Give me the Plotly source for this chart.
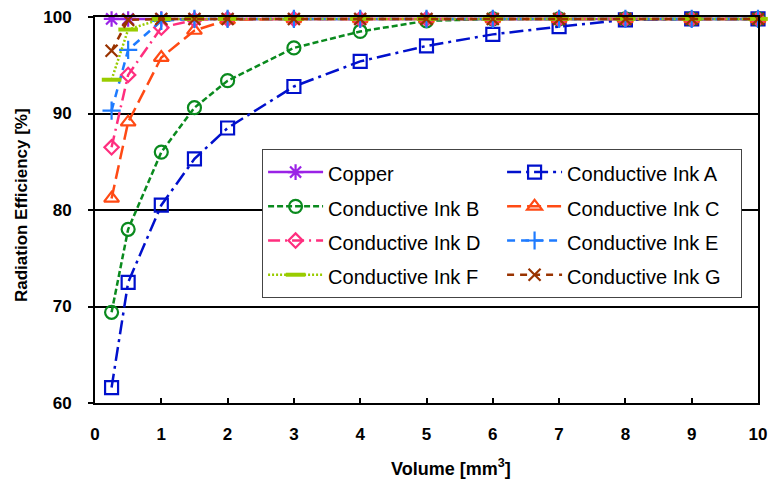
import plotly.graph_objects as go

x_vals = [0.25, 0.5, 1, 1.5, 2, 3, 4, 5, 6, 7, 8, 9, 10]

copper = [99.8, 99.8, 99.8, 99.8, 99.8, 99.8, 99.8, 99.8, 99.8, 99.8, 99.8, 99.8, 99.8]
ink_a = [61.6, 72.5, 80.5, 85.3, 88.5, 92.8, 95.4, 97.0, 98.2, 99.0, 99.7, 99.8, 99.8]
ink_b = [69.4, 78.0, 86.0, 90.6, 93.4, 96.8, 98.5, 99.6, 99.8, 99.8, 99.8, 99.8, 99.8]
ink_c = [81.2, 89.1, 95.8, 98.6, 99.7, 99.8, 99.8, 99.8, 99.8, 99.8, 99.8, 99.8, 99.8]
ink_d = [86.5, 94.0, 98.9, 99.7, 99.8, 99.8, 99.8, 99.8, 99.8, 99.8, 99.8, 99.8, 99.8]
ink_e = [90.3, 96.6, 99.6, 99.8, 99.8, 99.8, 99.8, 99.8, 99.8, 99.8, 99.8, 99.8, 99.8]
ink_f = [93.5, 98.7, 99.8, 99.8, 99.8, 99.8, 99.8, 99.8, 99.8, 99.8, 99.8, 99.8, 99.8]
ink_g = [96.5, 99.7, 99.8, 99.8, 99.8, 99.8, 99.8, 99.8, 99.8, 99.8, 99.8, 99.8, 99.8]

names = ["Copper", "Conductive Ink A", "Conductive Ink B", "Conductive Ink C",
         "Conductive Ink D", "Conductive Ink E", "Conductive Ink F", "Conductive Ink G"]
series = [copper, ink_a, ink_b, ink_c, ink_d, ink_e, ink_f, ink_g]
colors = ["#9A22E6", "#0010CC", "#0A8A1E", "#FF4A14", "#FF2E7E", "#1E7BFF", "#99CC00", "#993300"]
dashes = ["solid", "14px,5px,3px,5px", "6px,3px", "14px,6px", "12px,5px,2px,5px",
          "8px,6px", "2px,2px", "7px,6px"]
symbols = ["asterisk-open", "square-open", "circle-open", "triangle-up-open", "diamond-open",
           "cross-thin-open", "line-ew-open", "x-thin-open"]
sizes = [13, 13, 13, 13, 11, 13, 14, 12]

x_ticks = [0, 1, 2, 3, 4, 5, 6, 7, 8, 9, 10]
y_ticks = [60, 70, 80, 90, 100]

fig = go.Figure()
for name, ys, c, d, s, sz in zip(names, series, colors, dashes, symbols, sizes):
    fig.add_trace(go.Scatter(
        x=x_vals, y=ys, name='<span style="font-size:20px">%s</span>' % name,
        mode="lines+markers",
        line=dict(color=c, width=2.5, dash=d),
        marker=dict(symbol=s, size=sz, color=c,
                    line=dict(color=c, width=2.2 if s != "line-ew-open" else 4)),
        cliponaxis=False,
    ))

fig.update_layout(
    width=769, height=481,
    margin=dict(l=95, r=11, t=17, b=78, autoexpand=False),
    paper_bgcolor="white", plot_bgcolor="white",
    font=dict(family="Liberation Sans, Arial, sans-serif", color="black"),
    showlegend=True,
    legend=dict(
        orientation="h", x=0.252, y=0.658, xanchor="left", yanchor="top",
        entrywidth=169, entrywidthmode="pixels",
        bgcolor="white", bordercolor="#444444", borderwidth=1,
        font=dict(size=24, color="black"),
        itemwidth=55,
    ),
    xaxis=dict(
        range=[0, 10], tickvals=x_ticks,
        ticktext=["<b>%d</b>" % v for v in x_ticks],
        ticks="inside", ticklen=5, tickcolor="black", tickwidth=2,
        showline=True, linecolor="black", linewidth=2, mirror=True,
        showgrid=False, zeroline=False, automargin=False,
        tickfont=dict(size=17), ticklabelstandoff=15,
    ),
    yaxis=dict(
        range=[60, 100], tickvals=y_ticks,
        ticktext=["<b>%d</b>" % v for v in y_ticks],
        ticks="outside", ticklen=5, tickcolor="black", tickwidth=2,
        showline=True, linecolor="black", linewidth=2, mirror=True,
        showgrid=True, gridcolor="black", gridwidth=2, zeroline=False, automargin=False,
        tickfont=dict(size=17), ticklabelstandoff=13,
    ),
    annotations=[
        dict(text="<b>Volume [mm<sup>3</sup>]</b>", xref="paper", yref="paper",
             x=0.537, y=-0.166, xanchor="center", yanchor="middle",
             showarrow=False, font=dict(size=18)),
        dict(text="<b>Radiation Efficiency [%]</b>", xref="paper", yref="paper",
             x=-0.110, y=0.513, xanchor="center", yanchor="middle", textangle=-90,
             showarrow=False, font=dict(size=17)),
    ],
)

fig.write_html("out.html", config={"displayModeBar": False},
               post_script="document.body.style.margin='0';")
